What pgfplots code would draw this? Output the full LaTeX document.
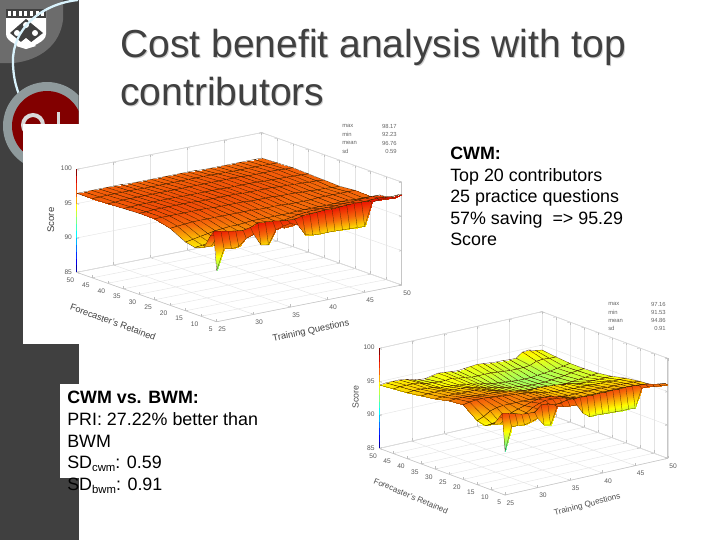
\documentclass[border=0pt]{standalone}
\usepackage{pgfplots}
\pgfplotsset{compat=1.18}
\usepackage{fontspec}
\setmainfont{Liberation Sans}
\definecolor{band}{HTML}{404040}
\definecolor{ringg}{HTML}{8F9A9C}
\definecolor{crim}{HTML}{820000}
\newcommand{\sub}[1]{\raisebox{-2.5pt}{\fontsize{8.5}{9}\selectfont #1}}
\pgfplotsset{
 colormap={ujet}{rgb255=(0,0,128) rgb255=(0,0,255) rgb255=(0,128,255) rgb255=(0,255,255) rgb255=(128,255,128) rgb255=(255,255,0) rgb255=(245,105,10) rgb255=(235,10,0) rgb255=(90,0,0)},
 slide3d/.style={
  axis lines=box, grid=major, grid style={gray!22,line width=0.3pt},
  axis line style={gray!45,line width=0.4pt},
  tick style={gray!50,line width=0.3pt}, major tick length=2pt,
  xmin=25,xmax=50,ymin=5,ymax=50,zmin=85,zmax=100,
  xtick={25,30,...,50}, ytick={5,10,...,50}, ztick={85,90,95,100},
  tick label style={font=\fontsize{5}{5.5}\selectfont,text=black!65},
  /pgf/number format/assume math mode=true,
  colormap name=ujet, point meta min=84.9, point meta max=100.1,
  anchor=south west, clip=false,
 },
 sheet/.style={surf, shader=faceted interp, z buffer=sort, mesh/cols=26, line width=0.2pt, faceted color=black!70!orange},
 zbar/.style={mesh, line width=1pt, no marks, forget plot},
}
\begin{document}
\begin{tikzpicture}[x=0.75pt,y=-0.75pt]
\useasboundingbox (0,0) rectangle (720,540);
\fill[white] (0,0) rectangle (720,540);
% left band and crest
\fill[band] (0,0) rectangle (78.5,540);
\fill[gray!70!band] (0,0) -- (63,0) -- (63,20) .. controls (60,45) and (40,60) .. (14,63) -- (0,63) -- cycle;
\fill[white] (6,9) -- (46,9) -- (46,34) .. controls (46,42) and (32,46) .. (26,49) .. controls (20,46) and (6,42) .. (6,34) -- cycle;
\fill[band] (6,9) rectangle (46,18);
\foreach \xx in {8,13,19,24,30,36,41}{\fill[white] (\xx,11) rectangle ++(3,5);}
\fill[band] (26,19) -- (43,33) -- (26,46) -- (10,33) -- cycle;
\fill[white] (26,38) -- (36,46) -- (26,49) -- (16,46) -- cycle;
\fill[white] (26,25) circle (3);
\fill[white] (17,33) circle (3);
\fill[white] (35,33) circle (3);
\draw[white!85!cyan,line width=1.7pt] (78,0) .. controls (40,4) and (12,30) .. (13,62) .. controls (13,78) and (17,92) .. (23,103);
\begin{scope}
\clip (0,0) rectangle (78.5,540);
\fill[ringg] (47,126) circle (44);
\fill[crim] (47,126) circle (35);
\draw[gray!30,line width=3pt] (33,125) circle (10);
\fill[gray!30] (57,112) rectangle (60,125);
\end{scope}
% picture and box backgrounds
\fill[white] (23,124) rectangle (370,343.5);
\fill[white] (60,384) rectangle (264,478);
% title
\node[anchor=base west,inner sep=0,text=gray!40,font=\fontsize{29.3}{32}\selectfont] at (121,58) {Cost benefit analysis with top};
\node[anchor=base west,inner sep=0,text=gray!40,font=\fontsize{29.3}{32}\selectfont] at (121,106) {contributors};
\node[anchor=base west,inner sep=0,text=band,font=\fontsize{29.3}{32}\selectfont] at (120,57) {Cost benefit analysis with top};
\node[anchor=base west,inner sep=0,text=band,font=\fontsize{29.3}{32}\selectfont] at (120,105) {contributors};

% chart 1
\begin{axis}[slide3d, at={(57.5pt,-241.3pt)},
  x={(5.55pt,1.101pt)}, y={(-2.333pt,0.8235pt)}, z={(0pt,5.15pt)}]
\addplot3[sheet] coordinates {
(25,50,96.5)(26,50,96.5)(27,50,96.5)(28,50,96.5)(29,50,96.5)(30,50,96.5)(31,50,96.5)(32,50,96.4)(33,50,96.4)(34,50,96.4)(35,50,96.4)(36,50,96.4)(37,50,96.4)(38,50,96.4)(39,50,96.4)(40,50,96.4)(41,50,96.4)(42,50,96.3)(43,50,96.3)(44,50,96.3)(45,50,96.3)(46,50,96.3)(47,50,96.3)(48,50,96.3)(49,50,96.3)(50,50,96.3)
(25,45,96.55)(26,45,96.55)(27,45,96.6)(28,45,96.6)(29,45,96.6)(30,45,96.6)(31,45,96.6)(32,45,96.55)(33,45,96.55)(34,45,96.55)(35,45,96.55)(36,45,96.55)(37,45,96.55)(38,45,96.55)(39,45,96.55)(40,45,96.55)(41,45,96.55)(42,45,96.5)(43,45,96.5)(44,45,96.45)(45,45,96.45)(46,45,96.45)(47,45,96.45)(48,45,96.45)(49,45,96.4)(50,45,96.4)
(25,40,96.6)(26,40,96.6)(27,40,96.7)(28,40,96.7)(29,40,96.7)(30,40,96.7)(31,40,96.7)(32,40,96.7)(33,40,96.7)(34,40,96.7)(35,40,96.7)(36,40,96.7)(37,40,96.7)(38,40,96.7)(39,40,96.7)(40,40,96.7)(41,40,96.7)(42,40,96.7)(43,40,96.7)(44,40,96.6)(45,40,96.6)(46,40,96.6)(47,40,96.6)(48,40,96.6)(49,40,96.5)(50,40,96.5)
(25,35,96.7)(26,35,96.7)(27,35,96.8)(28,35,96.8)(29,35,96.8)(30,35,96.8)(31,35,96.8)(32,35,96.8)(33,35,96.75)(34,35,96.75)(35,35,96.75)(36,35,96.75)(37,35,96.75)(38,35,96.75)(39,35,96.7)(40,35,96.7)(41,35,96.7)(42,35,96.7)(43,35,96.7)(44,35,96.6)(45,35,96.6)(46,35,96.55)(47,35,96.55)(48,35,96.5)(49,35,96.45)(50,35,96.4)
(25,30,96.8)(26,30,96.8)(27,30,96.9)(28,30,96.9)(29,30,96.9)(30,30,96.9)(31,30,96.9)(32,30,96.9)(33,30,96.8)(34,30,96.8)(35,30,96.8)(36,30,96.8)(37,30,96.8)(38,30,96.8)(39,30,96.7)(40,30,96.7)(41,30,96.7)(42,30,96.7)(43,30,96.7)(44,30,96.6)(45,30,96.6)(46,30,96.5)(47,30,96.5)(48,30,96.4)(49,30,96.4)(50,30,96.3)
(25,25,96.8)(26,25,96.8)(27,25,96.8)(28,25,96.8)(29,25,96.8)(30,25,96.8)(31,25,96.8)(32,25,96.8)(33,25,96.7)(34,25,96.7)(35,25,96.7)(36,25,96.7)(37,25,96.7)(38,25,96.6)(39,25,96.6)(40,25,96.6)(41,25,96.6)(42,25,96.5)(43,25,96.5)(44,25,96.5)(45,25,96.4)(46,25,96.4)(47,25,96.3)(48,25,96.3)(49,25,96.2)(50,25,96.2)
(25,20,96.2)(26,20,96.3)(27,20,96.4)(28,20,96.5)(29,20,96.5)(30,20,96.5)(31,20,96.5)(32,20,96.5)(33,20,96.5)(34,20,96.5)(35,20,96.5)(36,20,96.5)(37,20,96.4)(38,20,96.4)(39,20,96.4)(40,20,96.4)(41,20,96.3)(42,20,96.3)(43,20,96.3)(44,20,96.3)(45,20,96.4)(46,20,96.4)(47,20,96.4)(48,20,96.4)(49,20,96.4)(50,20,96.4)
(25,15,95.0)(26,15,95.2)(27,15,95.4)(28,15,95.6)(29,15,95.8)(30,15,95.9)(31,15,96.0)(32,15,96.0)(33,15,96.1)(34,15,96.2)(35,15,96.2)(36,15,96.2)(37,15,96.2)(38,15,96.2)(39,15,96.2)(40,15,96.3)(41,15,96.3)(42,15,96.3)(43,15,96.3)(44,15,96.3)(45,15,96.3)(46,15,96.4)(47,15,96.4)(48,15,96.3)(49,15,96.3)(50,15,96.3)
(25,12,94.7)(26,12,94.8)(27,12,95.0)(28,12,95.1)(29,12,95.3)(30,12,95.5)(31,12,95.7)(32,12,95.8)(33,12,95.9)(34,12,96.0)(35,12,96.0)(36,12,96.1)(37,12,96.1)(38,12,96.3)(39,12,96.5)(40,12,96.6)(41,12,96.7)(42,12,96.7)(43,12,96.7)(44,12,96.7)(45,12,96.8)(46,12,96.8)(47,12,96.9)(48,12,97.0)(49,12,97.0)(50,12,97.0)
(25,9,95.2)(26,9,95.2)(27,9,95.2)(28,9,95.3)(29,9,95.4)(30,9,95.6)(31,9,95.8)(32,9,95.9)(33,9,96.0)(34,9,96.0)(35,9,96.0)(36,9,96.1)(37,9,96.2)(38,9,96.4)(39,9,96.6)(40,9,96.8)(41,9,96.9)(42,9,96.9)(43,9,97.0)(44,9,97.0)(45,9,97.1)(46,9,97.1)(47,9,97.1)(48,9,97.1)(49,9,97.1)(50,9,97.1)
(25,7,97.2)(26,7,97.0)(27,7,96.7)(28,7,96.4)(29,7,96.3)(30,7,96.6)(31,7,97.0)(32,7,97.0)(33,7,96.9)(34,7,96.5)(35,7,96.2)(36,7,96.3)(37,7,96.5)(38,7,96.9)(39,7,97.0)(40,7,97.1)(41,7,97.1)(42,7,97.2)(43,7,97.2)(44,7,97.2)(45,7,97.3)(46,7,97.4)(47,7,97.5)(48,7,97.5)(49,7,97.4)(50,7,97.4)
(25,6,98.0)(26,6,97.8)(27,6,97.6)(28,6,97.4)(29,6,97.3)(30,6,97.5)(31,6,98.0)(32,6,97.9)(33,6,97.8)(34,6,97.6)(35,6,97.5)(36,6,97.4)(37,6,97.7)(38,6,97.8)(39,6,97.8)(40,6,97.9)(41,6,97.9)(42,6,97.9)(43,6,98.0)(44,6,98.0)(45,6,98.0)(46,6,98.0)(47,6,98.1)(48,6,98.1)(49,6,97.9)(50,6,98.0)
(25,5,92.5)(26,5,95.4)(27,5,95.2)(28,5,95.3)(29,5,96.3)(30,5,96.65)(31,5,94.9)(32,5,94.7)(33,5,96.65)(34,5,97.0)(35,5,97.2)(36,5,96.7)(37,5,95.1)(38,5,94.85)(39,5,94.8)(40,5,94.8)(41,5,94.8)(42,5,94.75)(43,5,94.7)(44,5,94.65)(45,5,94.6)(46,5,97.9)(47,5,98.1)(48,5,98.1)(49,5,97.85)(50,5,98.17)
};
\addplot3[zbar] coordinates {(25,50,85)(25,50,86)(25,50,87)(25,50,88)(25,50,89)(25,50,90)(25,50,91)(25,50,92)(25,50,93)(25,50,94)(25,50,95)(25,50,96)(25,50,97)(25,50,98)(25,50,99)(25,50,100)};
\end{axis}

% chart 2
\begin{axis}[slide3d, at={(284.5pt,-371.25pt)},
  x={(4.88pt,1.1pt)}, y={(-2.095pt,0.7775pt)}, z={(0pt,5.0pt)}]
\addplot3[sheet] coordinates {
(25,50,94.5)(26,50,94.6)(27,50,94.6)(28,50,94.6)(29,50,94.5)(30,50,94.2)(31,50,94.0)(32,50,93.9)(33,50,94.1)(34,50,94.3)(35,50,94.2)(36,50,94.1)(37,50,94.0)(38,50,94.1)(39,50,94.2)(40,50,94.3)(41,50,94.2)(42,50,94.1)(43,50,94.0)(44,50,94.0)(45,50,93.9)(46,50,93.9)(47,50,94.6)(48,50,94.7)(49,50,94.4)(50,50,94.25)
(25,45,94.7)(26,45,94.8)(27,45,94.8)(28,45,94.8)(29,45,94.7)(30,45,94.4)(31,45,94.3)(32,45,94.2)(33,45,94.2)(34,45,94.3)(35,45,94.1)(36,45,94.0)(37,45,93.8)(38,45,93.8)(39,45,93.8)(40,45,93.8)(41,45,93.7)(42,45,93.6)(43,45,93.5)(44,45,93.5)(45,45,93.5)(46,45,93.6)(47,45,94.0)(48,45,94.1)(49,45,94.0)(50,45,94.0)
(25,40,94.9)(26,40,95.0)(27,40,95.0)(28,40,94.9)(29,40,94.8)(30,40,94.6)(31,40,94.5)(32,40,94.4)(33,40,94.3)(34,40,94.2)(35,40,94.0)(36,40,93.8)(37,40,93.6)(38,40,93.4)(39,40,93.3)(40,40,93.2)(41,40,93.1)(42,40,93.0)(43,40,93.0)(44,40,93.0)(45,40,93.1)(46,40,93.2)(47,40,93.3)(48,40,93.5)(49,40,93.6)(50,40,93.8)
(25,35,95.2)(26,35,95.3)(27,35,95.3)(28,35,95.3)(29,35,95.2)(30,35,95.0)(31,35,95.0)(32,35,94.9)(33,35,94.7)(34,35,94.5)(35,35,94.2)(36,35,94.0)(37,35,93.8)(38,35,93.6)(39,35,93.4)(40,35,93.3)(41,35,93.2)(42,35,93.1)(43,35,93.1)(44,35,93.1)(45,35,93.2)(46,35,93.3)(47,35,93.4)(48,35,93.6)(49,35,93.7)(50,35,93.8)
(25,30,95.5)(26,30,95.6)(27,30,95.6)(28,30,95.6)(29,30,95.5)(30,30,95.5)(31,30,95.5)(32,30,95.3)(33,30,95.1)(34,30,94.8)(35,30,94.5)(36,30,94.2)(37,30,94.0)(38,30,93.8)(39,30,93.6)(40,30,93.5)(41,30,93.4)(42,30,93.3)(43,30,93.3)(44,30,93.3)(45,30,93.4)(46,30,93.5)(47,30,93.6)(48,30,93.7)(49,30,93.8)(50,30,93.9)
(25,25,96.0)(26,25,96.1)(27,25,96.1)(28,25,96.0)(29,25,95.9)(30,25,95.8)(31,25,95.8)(32,25,95.7)(33,25,95.6)(34,25,95.5)(35,25,95.3)(36,25,95.1)(37,25,95.0)(38,25,95.0)(39,25,95.0)(40,25,94.9)(41,25,94.8)(42,25,94.7)(43,25,94.6)(44,25,94.4)(45,25,94.2)(46,25,94.2)(47,25,94.2)(48,25,94.2)(49,25,94.2)(50,25,94.2)
(25,20,96.2)(26,20,96.4)(27,20,96.5)(28,20,96.5)(29,20,96.4)(30,20,96.3)(31,20,96.2)(32,20,96.1)(33,20,96.0)(34,20,95.9)(35,20,95.8)(36,20,95.6)(37,20,95.4)(38,20,95.2)(39,20,95.1)(40,20,95.0)(41,20,95.0)(42,20,94.9)(43,20,94.9)(44,20,94.9)(45,20,94.8)(46,20,94.8)(47,20,94.8)(48,20,94.7)(49,20,94.7)(50,20,94.7)
(25,15,94.6)(26,15,95.0)(27,15,95.6)(28,15,95.9)(29,15,96.0)(30,15,96.0)(31,15,96.0)(32,15,96.0)(33,15,96.0)(34,15,96.0)(35,15,95.9)(36,15,95.7)(37,15,95.5)(38,15,95.4)(39,15,95.3)(40,15,95.3)(41,15,95.3)(42,15,95.3)(43,15,95.3)(44,15,95.3)(45,15,95.2)(46,15,95.2)(47,15,95.2)(48,15,95.1)(49,15,95.1)(50,15,95.0)
(25,12,94.3)(26,12,94.4)(27,12,94.6)(28,12,95.0)(29,12,95.4)(30,12,95.7)(31,12,96.0)(32,12,96.3)(33,12,96.5)(34,12,96.6)(35,12,96.5)(36,12,96.3)(37,12,96.0)(38,12,95.7)(39,12,95.5)(40,12,95.4)(41,12,95.4)(42,12,95.4)(43,12,95.4)(44,12,95.4)(45,12,95.4)(46,12,95.4)(47,12,95.3)(48,12,95.3)(49,12,95.2)(50,12,95.1)
(25,9,95.0)(26,9,94.8)(27,9,94.6)(28,9,94.8)(29,9,95.2)(30,9,95.6)(31,9,96.2)(32,9,96.6)(33,9,96.8)(34,9,96.8)(35,9,96.7)(36,9,96.5)(37,9,96.2)(38,9,96.0)(39,9,95.8)(40,9,95.6)(41,9,95.6)(42,9,95.6)(43,9,95.6)(44,9,95.6)(45,9,95.6)(46,9,95.6)(47,9,95.6)(48,9,95.5)(49,9,95.4)(50,9,95.4)
(25,7,96.4)(26,7,96.0)(27,7,95.6)(28,7,95.4)(29,7,95.3)(30,7,95.6)(31,7,96.2)(32,7,96.4)(33,7,96.2)(34,7,96.0)(35,7,96.0)(36,7,96.0)(37,7,96.1)(38,7,96.1)(39,7,96.1)(40,7,96.1)(41,7,96.1)(42,7,96.1)(43,7,96.1)(44,7,96.1)(45,7,96.1)(46,7,96.1)(47,7,96.0)(48,7,95.9)(49,7,95.8)(50,7,95.8)
(25,6,97.1)(26,6,96.9)(27,6,96.6)(28,6,96.3)(29,6,96.2)(30,6,96.2)(31,6,97.0)(32,6,97.0)(33,6,96.6)(34,6,96.7)(35,6,96.9)(36,6,96.9)(37,6,96.85)(38,6,96.8)(39,6,96.8)(40,6,96.8)(41,6,96.8)(42,6,96.8)(43,6,96.8)(44,6,96.8)(45,6,96.85)(46,6,96.7)(47,6,96.6)(48,6,96.4)(49,6,96.2)(50,6,96.1)
(25,5,91.6)(26,5,95.0)(27,5,95.0)(28,5,94.85)(29,5,95.1)(30,5,95.4)(31,5,94.2)(32,5,93.95)(33,5,96.5)(34,5,96.25)(35,5,96.15)(36,5,96.1)(37,5,94.6)(38,5,93.9)(39,5,93.9)(40,5,93.85)(41,5,93.8)(42,5,93.75)(43,5,93.7)(44,5,93.7)(45,5,93.6)(46,5,96.4)(47,5,96.4)(48,5,96.2)(49,5,96.1)(50,5,96.0)
};
\addplot3[zbar] coordinates {(25,50,85)(25,50,86)(25,50,87)(25,50,88)(25,50,89)(25,50,90)(25,50,91)(25,50,92)(25,50,93)(25,50,94)(25,50,95)(25,50,96)(25,50,97)(25,50,98)(25,50,99)(25,50,100)};
\end{axis}

% axis labels chart 1
\node[font=\fontsize{7.2}{8}\selectfont,rotate=90,text=black!75] at (50.7,220) {Score};
\node[font=\fontsize{6.9}{8}\selectfont,rotate=-20,text=black!75] at (113,322) {Forecaster's Retained};
\node[font=\fontsize{7}{8}\selectfont,rotate=12,text=black!75] at (311,331) {Training Questions};
% axis labels chart 2
\node[font=\fontsize{6.6}{8}\selectfont,rotate=90,text=black!70] at (355.7,397) {Score};
\node[font=\fontsize{6.1}{7}\selectfont,rotate=-23,text=black!70] at (411,496) {Forecaster's Retained};
\node[font=\fontsize{6.1}{7}\selectfont,rotate=14.5,text=black!70] at (587.3,505) {Training Questions};
% statistics chart 1
\foreach \n/\v/\yy in {max/98.17/126,min/92.23/134.5,mean/96.76/143,sd/0.59/151}{
 \node[anchor=west,font=\fontsize{4.4}{5}\selectfont,text=black!60,inner sep=0] at (342,\yy) {\n};
 \node[anchor=east,font=\fontsize{4.4}{5}\selectfont,text=black!60,inner sep=0] at (397,\yy) {\v};
}
% statistics chart 2
\foreach \n/\v/\yy in {max/97.16/304,min/91.53/312,mean/94.86/320.5,sd/0.91/328.5}{
 \node[anchor=west,font=\fontsize{4.4}{5}\selectfont,text=black!60,inner sep=0] at (608,\yy) {\n};
 \node[anchor=east,font=\fontsize{4.4}{5}\selectfont,text=black!60,inner sep=0] at (666,\yy) {\v};
}
% right text
\foreach \t/\yy in {{Top 20 contributors}/181,{25 practice questions}/202,{57\% saving\ \ => 95.29}/224,{Score}/245}{
 \node[anchor=base west,inner sep=0,font=\fontsize{13.4}{15}\selectfont] at (450,\yy) {\t};
}
\node[anchor=base west,inner sep=0,font=\fontsize{13.4}{15}\selectfont\bfseries] at (450,159) {CWM:};
% left box text
\node[anchor=base west,inner sep=0,font=\fontsize{13.4}{15}\selectfont\bfseries] at (67,403) {CWM vs. BWM:};
\foreach \t/\yy in {{PRI: 27.22\% better than}/425,{BWM}/447,{SD\sub{cwm}: 0.59}/468.5,{SD\sub{bwm}: 0.91}/490}{
 \node[anchor=base west,inner sep=0,font=\fontsize{13.4}{15}\selectfont] at (67,\yy) {\t};
}
\end{tikzpicture}
\end{document}
